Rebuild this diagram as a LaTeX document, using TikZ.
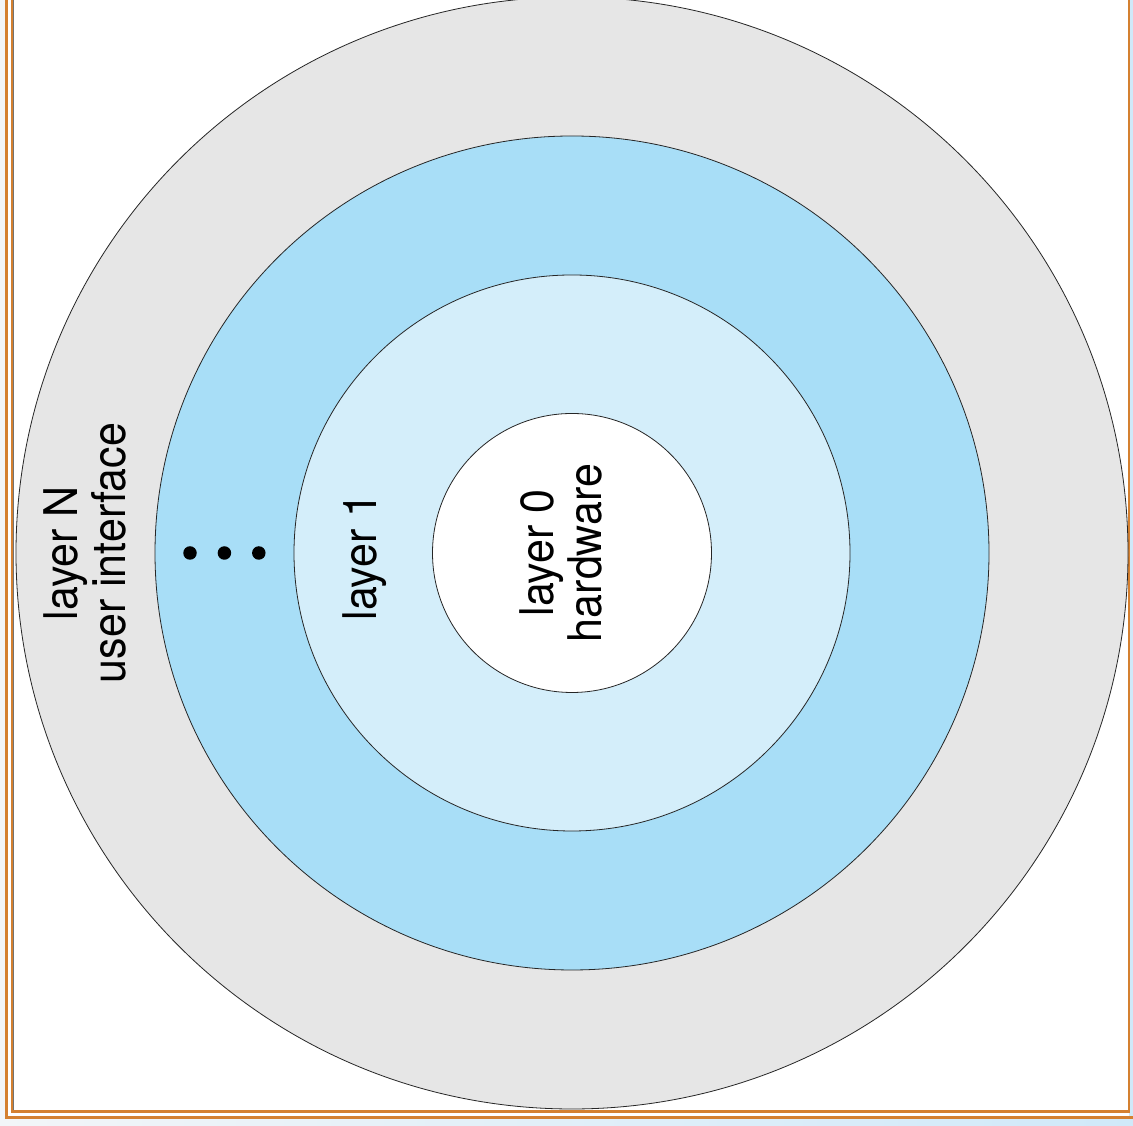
\documentclass[tikz,border=0pt]{standalone}
\usepackage{fontspec}
\setsansfont{TeX Gyre Heros}
\usepackage{tikz}
\usetikzlibrary{positioning}
\definecolor{framecol}{RGB}{212,128,48}
\definecolor{outercol}{RGB}{230,230,230}
\definecolor{midcol}{RGB}{168,222,247}
\definecolor{innercol}{RGB}{212,238,250}
\definecolor{pagecol}{RGB}{242,245,248}
\definecolor{slidecol}{RGB}{208,233,249}

\begin{document}
\begin{tikzpicture}[x=1pt,y=1pt,
                    ring node/.style={circle,draw=black!85,line width=0.8pt,inner sep=0pt},
                    layer text/.style={rotate=90,yscale=1.08,align=center,font=\sffamily\fontsize{43}{44.5}\selectfont},
                    dot node/.style={circle,fill=black,inner sep=0pt,minimum size=13.5pt}]

  \useasboundingbox (0,0) rectangle (1133,1126);
  \shade[left color=pagecol,right color=slidecol] (0,0) rectangle (1133,1126);
  \fill[white] (6,8.5) rectangle (1129,1126);
  \fill[slidecol] (1129,8.5) rectangle (1133,1126);

  % frame of the slide
  \draw[framecol,line width=3pt] (6,1126) -- (6,8.5) -- (1133,8.5);
  \draw[framecol,line width=2.5pt] (12,1126) -- (12,14.5) -- (1129,14.5) -- (1129,1126);
  \draw[black!55,line width=0.8pt] (13.8,1126) -- (13.8,15.8);

  % the layers
  \coordinate (c) at (572,573);
  \node[ring node,fill=outercol,minimum size=1112pt] (layerN) at (c) {};
  \node[ring node,fill=midcol,minimum size=834pt] (layer2) at (c) {};
  \node[ring node,fill=innercol,minimum size=556pt] (layer1) at (c) {};
  \node[ring node,fill=white,minimum size=279pt] (layer0) at (c) {};

  \node[layer text] (textN) at (85,573) {layer N\\user interface};
  \node[layer text] (text1) at (365,569) {layer 1};
  \node[layer text] (text0) at (561,573) {layer 0\\hardware};

  \node[dot node] (d1) at (190,573) {};
  \node[dot node,right=20.5pt of d1] (d2) {};
  \node[dot node,right=20.5pt of d2] (d3) {};
\end{tikzpicture}
\end{document}
